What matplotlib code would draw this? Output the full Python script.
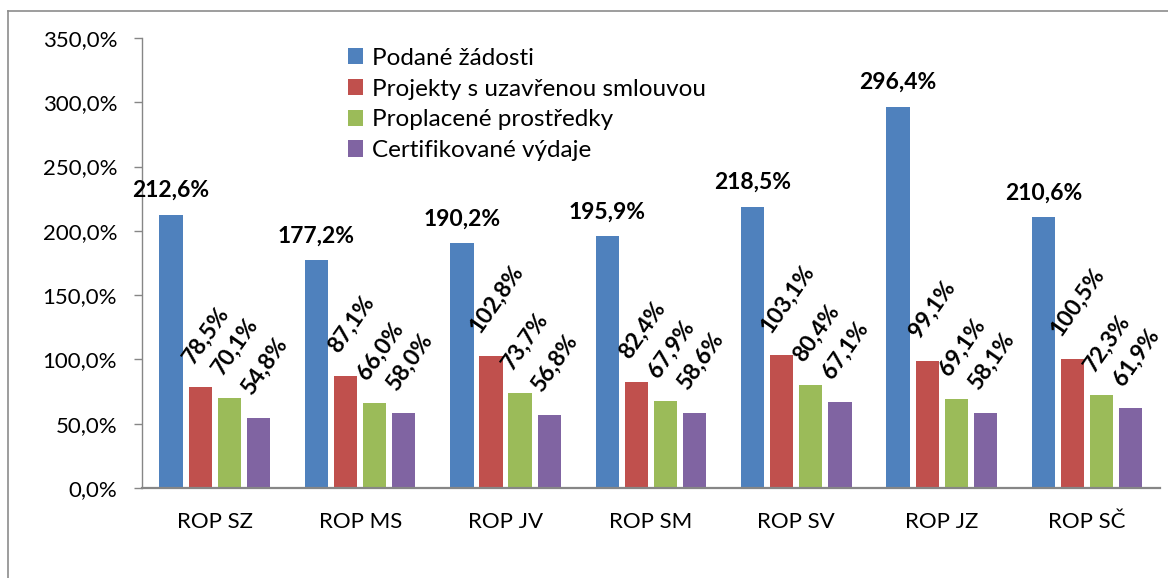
import numpy as np
import matplotlib
matplotlib.use('Agg')
import matplotlib.pyplot as plt
from matplotlib.lines import Line2D

plt.rcParams['font.family'] = ['Lato', 'DejaVu Sans']

# data
regions = ['ROP SZ', 'ROP MS', 'ROP JV', 'ROP SM', 'ROP SV', 'ROP JZ', 'ROP SČ']
series_names = ['Podané žádosti', 'Projekty s uzavřenou smlouvou',
                'Proplacené prostředky', 'Certifikované výdaje']
podane = [212.6, 177.2, 190.2, 195.9, 218.5, 296.4, 210.6]
smlouvy = [78.5, 87.1, 102.8, 82.4, 103.1, 99.1, 100.5]
proplacene = [70.1, 66.0, 73.7, 67.9, 80.4, 69.1, 72.3]
certifikovane = [54.8, 58.0, 56.8, 58.6, 67.1, 58.1, 61.9]
yticks = [0, 50, 100, 150, 200, 250, 300, 350]

colors = ['#4F81BD', '#C0504D', '#9BBB59', '#8064A2']


def pct(v):
    return f'{v:.1f}'.replace('.', ',') + '%'


fig = plt.figure(figsize=(11.68, 5.78), dpi=100)
ax = fig.add_axes([0.1216, 0.1557, 0.8714, 0.7786])

x = np.arange(len(regions))
step = 0.2
width = 0.16
all_series = [podane, smlouvy, proplacene, certifikovane]

for i, (vals, name, c) in enumerate(zip(all_series, series_names, colors)):
    pos = x + (i - 1.5) * step
    ax.bar(pos, vals, width, color=c, label=name, zorder=2)
    for px, v in zip(pos, vals):
        if i == 0:
            ax.annotate(pct(v), (px, v), xytext=(0, 10), textcoords='offset points',
                        ha='center', va='bottom', fontsize=16.5, fontweight='bold')
        else:
            ax.annotate(pct(v), (px, v), xytext=(4, 14), textcoords='offset points',
                        ha='center', va='bottom', rotation=55, fontsize=16.5,
                        fontweight='bold')

ax.set_xlim(-0.5, len(regions) - 0.5)
ax.set_ylim(0, 350)
ax.set_yticks(yticks)
ax.set_yticklabels([pct(t) for t in yticks])
ax.set_xticks(x)
ax.set_xticklabels(regions)

ax.tick_params(axis='y', length=6, width=1, color='#868686', labelsize=16, pad=12)
ax.tick_params(axis='x', length=0, labelsize=16, pad=17)

for s in ['top', 'right']:
    ax.spines[s].set_visible(False)
ax.spines['left'].set_color('#868686')
ax.spines['bottom'].set_color('#868686')
ax.spines['left'].set_linewidth(1.0)
ax.spines['bottom'].set_linewidth(1.6)

ax.legend(loc='upper left', bbox_to_anchor=(0.19, 1.005), frameon=False,
          fontsize=17.5, handlelength=0.65, handleheight=0.65, handletextpad=0.35,
          labelspacing=0.4, borderpad=0)

# chart area frame (only top and left visible in the crop)
fig.add_artist(Line2D([8 / 1168, 1], [1 - 11 / 578, 1 - 11 / 578],
                      transform=fig.transFigure, color='#8c8c8c', lw=1.2))
fig.add_artist(Line2D([8 / 1168, 8 / 1168], [0, 1 - 11 / 578],
                      transform=fig.transFigure, color='#8c8c8c', lw=1.2))

fig.savefig('out.png', dpi=100)
